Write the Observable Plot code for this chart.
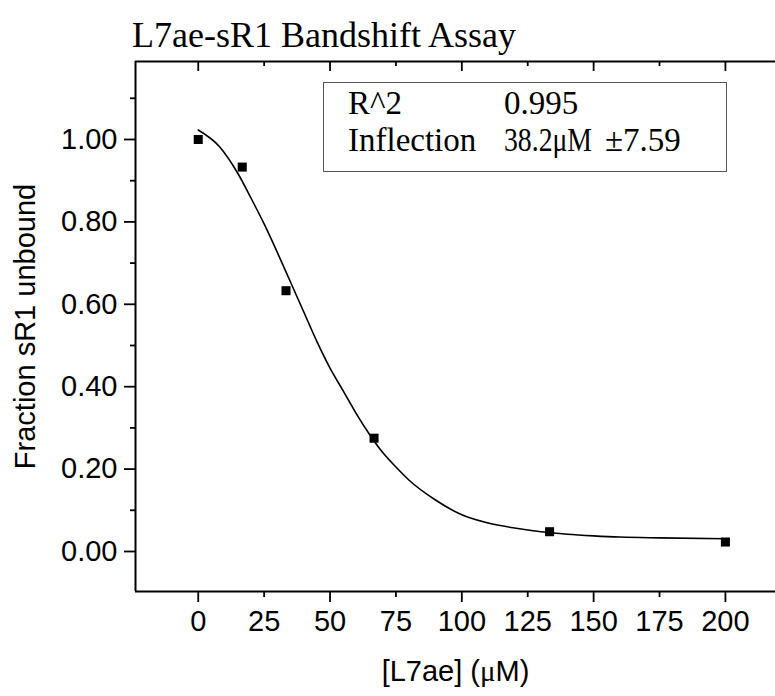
<!DOCTYPE html>
<html><head><meta charset="utf-8">
<script src="https://cdn.jsdelivr.net/npm/d3@7"></script>
<script src="https://cdn.jsdelivr.net/npm/@observablehq/plot@0.6"></script>
<style>
html,body{margin:0;padding:0;background:#fff;}
#wrap{position:relative;width:775px;height:696px;overflow:hidden;background:#fff;}
#title{position:absolute;left:132px;top:17px;font:36px/36px "Liberation Serif","Times New Roman",serif;color:#000;white-space:nowrap;}
#chart{position:absolute;left:0;top:56px;}
#stats{position:absolute;left:323px;top:82px;width:402px;height:88px;border:1px solid #555;background:#fff;}
#stats span{position:absolute;font:33px/33px "Liberation Serif","Times New Roman",serif;color:#000;white-space:nowrap;transform-origin:0 50%;}
</style></head>
<body>
<div id="wrap">
  <div id="title"></div>
  <div id="chart"></div>
  <div id="stats"></div>
</div>
<script>
// ---- data ----
const concentration = [0, 16.7, 33.3, 66.7, 133.3, 200];
const fractionUnbound = [1.000, 0.933, 0.633, 0.275, 0.048, 0.023];

// fitted curve
const fitX = [0, 8, 15, 20, 25, 30, 35, 40, 45, 50, 55, 60, 65, 70, 75, 80, 90, 100, 110, 120, 130, 140, 150, 160, 175, 200];
const fitY = [1.023, 0.983, 0.918, 0.858, 0.795, 0.726, 0.654, 0.582, 0.510, 0.445, 0.390, 0.334, 0.284, 0.240, 0.205, 0.173, 0.125, 0.089, 0.069, 0.057, 0.048, 0.042, 0.038, 0.035, 0.033, 0.031];

const xTickLabels = [0, 25, 50, 75, 100, 125, 150, 175, 200];
const xMajorTicks = [0, 50, 100, 150, 200];
const xMinorTicks = [25, 75, 125, 175];
const yMajorTicks = [0, 0.2, 0.4, 0.6, 0.8, 1.0];
const yMinorTicks = [0.1, 0.3, 0.5, 0.7, 0.9, 1.1];
const xDomain = [-23.8, 219];
const yDomain = [-0.0971, 1.1893];

const titleText = "L7ae-sR1 Bandshift Assay";
const xLabel = "[L7ae] (μM)";
const yLabel = "Fraction sR1 unbound";
const statsRows = [["R^2", "0.995", ""], ["Inflection", "38.2μM", "±7.59"]];

// ---- build ----
const points = concentration.map((c, i) => ({c, f: fractionUnbound[i]}));
const fit = fitX.map((c, i) => ({c, f: fitY[i]}));

const W = 775, H = 640, mT = 5, mB = 105, mL = 135, mR = 0;
const plotH = H - mT - mB;
const sans = '"Liberation Sans", Arial, sans-serif';
const lw = 1.8;

const chart = Plot.plot({
  width: W, height: H,
  marginTop: mT, marginBottom: mB, marginLeft: mL, marginRight: mR,
  style: {fontFamily: sans, fontSize: "29px", color: "#000", background: "#fff", overflow: "visible"},
  x: {domain: xDomain},
  y: {domain: yDomain},
  marks: [
    // bottom axis
    Plot.axisX({ticks: xMajorTicks, tickSize: 11, tickFormat: () => "", strokeWidth: lw, label: null}),
    Plot.axisX({ticks: xMinorTicks, tickSize: 6, tickFormat: () => "", strokeWidth: lw, label: null}),
    Plot.axisX({ticks: xTickLabels, tickSize: 0, tickPadding: 19, fontSize: 29, label: null}),
    // top inward ticks
    Plot.tickX(xMajorTicks, {x: d => d, insetBottom: plotH - 10, strokeWidth: lw}),
    Plot.tickX(xMinorTicks, {x: d => d, insetBottom: plotH - 5, strokeWidth: lw}),
    // left axis
    Plot.axisY({ticks: yMajorTicks, tickSize: 11, tickFormat: () => "", strokeWidth: lw, label: null}),
    Plot.axisY({ticks: yMinorTicks, tickSize: 5, tickFormat: () => "", strokeWidth: lw, label: null}),
    Plot.axisY({ticks: yMajorTicks, tickSize: 0, tickPadding: 18, tickFormat: d3.format(".2f"), fontSize: 29, label: null}),
    // frame lines
    Plot.ruleX([xDomain[0]], {strokeWidth: 2}),
    Plot.ruleY([yDomain[0], yDomain[1]], {strokeWidth: 2}),
    // fit curve and data
    Plot.line(fit, {x: "c", y: "f", curve: "monotone-x", stroke: "#000", strokeWidth: 1.6}),
    Plot.dot(points, {x: "c", y: "f", symbol: "square", r: 5.1, fill: "#000"}),
    // axis titles
    Plot.text([yLabel], {text: d => d, frameAnchor: "left", textAnchor: "middle", lineAnchor: "middle", rotate: -90, dx: -110, fontSize: 29, fill: "#000"}),
    Plot.text([xLabel], {text: d => d, frameAnchor: "bottom", textAnchor: "middle", dy: 80, fontSize: 29, lineAnchor: "middle", fill: "#000"})
  ]
});
document.getElementById("chart").appendChild(chart);

// serif mu in the x-axis title
chart.querySelectorAll("text").forEach(t => {
  if (t.textContent === xLabel) {
    const [a, b] = xLabel.split("μ");
    t.textContent = "";
    const ns = "http://www.w3.org/2000/svg";
    const s1 = document.createElementNS(ns, "tspan"); s1.textContent = a;
    const s2 = document.createElementNS(ns, "tspan"); s2.textContent = "μ";
    s2.setAttribute("font-family", '"Liberation Serif", serif');
    const s3 = document.createElementNS(ns, "tspan"); s3.textContent = b;
    t.append(s1, s2, s3);
  }
});

document.getElementById("title").textContent = titleText;

// stats box
const box = document.getElementById("stats");
const colLeft = [24, 180, 281];
const colMaxWidth = [null, 88, null];
const rowTop = [4.4, 41.4];
statsRows.forEach((row, r) => row.forEach((txt, c) => {
  if (!txt) return;
  const s = document.createElement("span");
  s.textContent = txt;
  s.style.left = colLeft[c] + "px";
  s.style.top = rowTop[r] + "px";
  box.appendChild(s);
  const w = s.getBoundingClientRect().width;
  if (colMaxWidth[c] && w > colMaxWidth[c]) s.style.transform = `scaleX(${colMaxWidth[c] / w})`;
}));
</script>
</body></html>
